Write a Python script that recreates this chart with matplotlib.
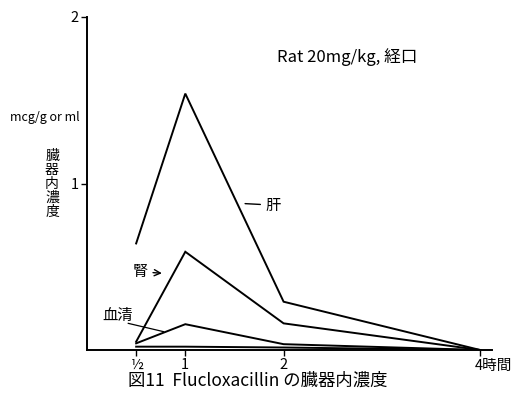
#Flucloxacillin 臓器内濃度 (Rat 20mg/kg, 経口)

import matplotlib.pyplot as plt

plt.rcParams['font.family'] = ['Noto Sans CJK JP', 'DejaVu Sans']

hours = [0.5, 1, 2, 4]
liver = [0.64, 1.54, 0.29, 0.0]
kidney = [0.05, 0.59, 0.16, 0.0]
serum = [0.04, 0.155, 0.035, 0.0]
other = [0.02, 0.02, 0.015, 0.0]

x_ticks = [0.5, 1, 2, 4]
x_labels = ['½', '1', '2', '4']

fig = plt.figure(figsize=(5.16, 3.99), dpi=100)
ax = fig.add_axes([87/516, 49/399, 405/516, 333/399])

for s in [liver, kidney, serum, other]:
    ax.plot(hours, s, color='black', lw=1.4, solid_joinstyle='miter')

ax.set_xlim(0, 4.12)
ax.set_ylim(0, 2)
ax.spines['top'].set_visible(False)
ax.spines['right'].set_visible(False)
ax.spines['left'].set_linewidth(1.4)
ax.spines['bottom'].set_linewidth(1.4)
ax.set_yticks([1, 2])
ax.set_yticklabels(['1', '2'], fontsize=10.5)
ax.set_xticks(x_ticks)
ax.set_xticklabels(x_labels, fontsize=10.5)
ax.xaxis.get_ticklabels()[-1].set_alpha(0)
ax.tick_params(direction='out', length=4, width=1, pad=2)

ax.text(3.945, -0.055, '4時間', fontsize=10.5, ha='left', va='top')

fig.text(10/516, 1 - 118/399, 'mcg/g or ml', fontsize=9, va='center', ha='left')
fig.text(52/516, 1 - 184/399, '臓\n器\n内\n濃\n度', fontsize=10, va='center', ha='center',
         linespacing=1.0)

fig.text(277/516, 1 - 57/399, 'Rat 20mg/kg, 経口', fontsize=12, va='center', ha='left')

ax.annotate('肝', xy=(1.58, 0.88), xytext=(1.82, 0.87), fontsize=11, va='center',
            arrowprops=dict(arrowstyle='-', lw=1))
ax.annotate('腎', xy=(0.79, 0.46), xytext=(0.46, 0.47), fontsize=11, va='center',
            arrowprops=dict(arrowstyle='->', lw=1))
ax.text(0.16, 0.21, '血清', fontsize=11, va='center')
ax.plot([0.42, 0.78], [0.16, 0.11], color='black', lw=0.9)

fig.text(258/516, 1 - 381/399, '図11  Flucloxacillin の臓器内濃度', fontsize=12.5,
         ha='center', va='center')

plt.savefig('out.png', dpi=100)
